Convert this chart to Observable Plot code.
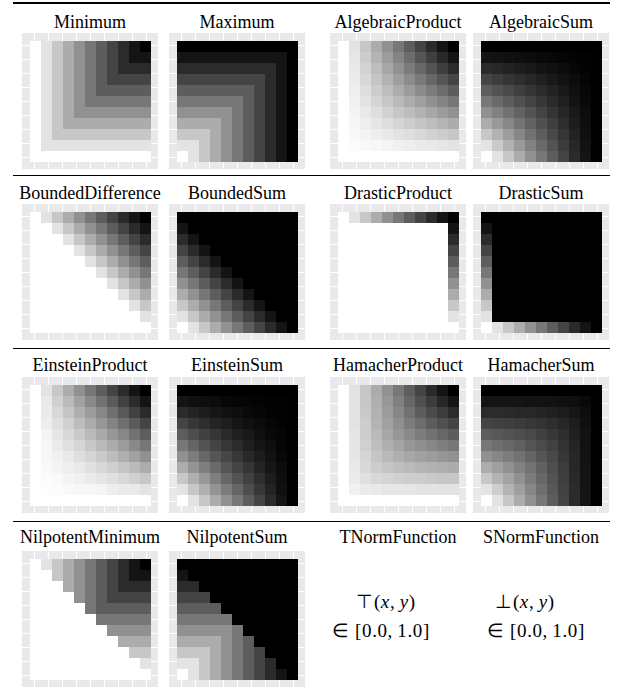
<!DOCTYPE html>
<html><head><meta charset="utf-8">
<script src="https://cdn.jsdelivr.net/npm/d3@7"></script>
<script src="https://cdn.jsdelivr.net/npm/@observablehq/plot@0.6"></script>
<style>
html,body{margin:0;padding:0;background:#fff;}
#page{position:relative;width:618px;height:687px;overflow:hidden;color:#000;}
.rule{position:absolute;left:13px;width:597px;background:#000;}
.title,.math{position:absolute;width:180px;text-align:center;font-size:18px;line-height:18px;white-space:nowrap;
  font-family:"Liberation Serif","Times New Roman",serif;}
.math{font-size:19px;letter-spacing:0.6px;}
.panel{position:absolute;width:136px;height:136px;background-color:#e9e9ec;
  background-image:linear-gradient(to right,#fff 1px,transparent 1px),linear-gradient(to bottom,#fff 1px,transparent 1px);
  background-size:14px 14px;background-position:12px 12px;}
.panel svg{display:block;background:transparent !important;}
</style></head>
<body><div id="page"></div>
<script>
// ---- data (values in percent, rows from y = 1.0 at top to y = 0.0 at bottom, columns x = 0.0 .. 1.0) ----
const xValues = [0, 0.1, 0.2, 0.3, 0.4, 0.5, 0.6, 0.7, 0.8, 0.9, 1.0];
const yValues = [1.0, 0.9, 0.8, 0.7, 0.6, 0.5, 0.4, 0.3, 0.2, 0.1, 0];

const minimum = [
  [0,10,20,30,40,50,60,70,80,90,100],
  [0,10,20,30,40,50,60,70,80,90,90],
  [0,10,20,30,40,50,60,70,80,80,80],
  [0,10,20,30,40,50,60,70,70,70,70],
  [0,10,20,30,40,50,60,60,60,60,60],
  [0,10,20,30,40,50,50,50,50,50,50],
  [0,10,20,30,40,40,40,40,40,40,40],
  [0,10,20,30,30,30,30,30,30,30,30],
  [0,10,20,20,20,20,20,20,20,20,20],
  [0,10,10,10,10,10,10,10,10,10,10],
  [0,0,0,0,0,0,0,0,0,0,0]
];
const maximum = [
  [100,100,100,100,100,100,100,100,100,100,100],
  [90,90,90,90,90,90,90,90,90,90,100],
  [80,80,80,80,80,80,80,80,80,90,100],
  [70,70,70,70,70,70,70,70,80,90,100],
  [60,60,60,60,60,60,60,70,80,90,100],
  [50,50,50,50,50,50,60,70,80,90,100],
  [40,40,40,40,40,50,60,70,80,90,100],
  [30,30,30,30,40,50,60,70,80,90,100],
  [20,20,20,30,40,50,60,70,80,90,100],
  [10,10,20,30,40,50,60,70,80,90,100],
  [0,10,20,30,40,50,60,70,80,90,100]
];
const algebraicProduct = [
  [0,10,20,30,40,50,60,70,80,90,100],
  [0,9,18,27,36,45,54,63,72,81,90],
  [0,8,16,24,32,40,48,56,64,72,80],
  [0,7,14,21,28,35,42,49,56,63,70],
  [0,6,12,18,24,30,36,42,48,54,60],
  [0,5,10,15,20,25,30,35,40,45,50],
  [0,4,8,12,16,20,24,28,32,36,40],
  [0,3,6,9,12,15,18,21,24,27,30],
  [0,2,4,6,8,10,12,14,16,18,20],
  [0,1,2,3,4,5,6,7,8,9,10],
  [0,0,0,0,0,0,0,0,0,0,0]
];
const algebraicSum = [
  [100,100,100,100,100,100,100,100,100,100,100],
  [90,91,92,93,94,95,96,97,98,99,100],
  [80,82,84,86,88,90,92,94,96,98,100],
  [70,73,76,79,82,85,88,91,94,97,100],
  [60,64,68,72,76,80,84,88,92,96,100],
  [50,55,60,65,70,75,80,85,90,95,100],
  [40,46,52,58,64,70,76,82,88,94,100],
  [30,37,44,51,58,65,72,79,86,93,100],
  [20,28,36,44,52,60,68,76,84,92,100],
  [10,19,28,37,46,55,64,73,82,91,100],
  [0,10,20,30,40,50,60,70,80,90,100]
];
const boundedDifference = [
  [0,10,20,30,40,50,60,70,80,90,100],
  [0,0,10,20,30,40,50,60,70,80,90],
  [0,0,0,10,20,30,40,50,60,70,80],
  [0,0,0,0,10,20,30,40,50,60,70],
  [0,0,0,0,0,10,20,30,40,50,60],
  [0,0,0,0,0,0,10,20,30,40,50],
  [0,0,0,0,0,0,0,10,20,30,40],
  [0,0,0,0,0,0,0,0,10,20,30],
  [0,0,0,0,0,0,0,0,0,10,20],
  [0,0,0,0,0,0,0,0,0,0,10],
  [0,0,0,0,0,0,0,0,0,0,0]
];
const boundedSum = [
  [100,100,100,100,100,100,100,100,100,100,100],
  [90,100,100,100,100,100,100,100,100,100,100],
  [80,90,100,100,100,100,100,100,100,100,100],
  [70,80,90,100,100,100,100,100,100,100,100],
  [60,70,80,90,100,100,100,100,100,100,100],
  [50,60,70,80,90,100,100,100,100,100,100],
  [40,50,60,70,80,90,100,100,100,100,100],
  [30,40,50,60,70,80,90,100,100,100,100],
  [20,30,40,50,60,70,80,90,100,100,100],
  [10,20,30,40,50,60,70,80,90,100,100],
  [0,10,20,30,40,50,60,70,80,90,100]
];
const drasticProduct = [
  [0,10,20,30,40,50,60,70,80,90,100],
  [0,0,0,0,0,0,0,0,0,0,90],
  [0,0,0,0,0,0,0,0,0,0,80],
  [0,0,0,0,0,0,0,0,0,0,70],
  [0,0,0,0,0,0,0,0,0,0,60],
  [0,0,0,0,0,0,0,0,0,0,50],
  [0,0,0,0,0,0,0,0,0,0,40],
  [0,0,0,0,0,0,0,0,0,0,30],
  [0,0,0,0,0,0,0,0,0,0,20],
  [0,0,0,0,0,0,0,0,0,0,10],
  [0,0,0,0,0,0,0,0,0,0,0]
];
const drasticSum = [
  [100,100,100,100,100,100,100,100,100,100,100],
  [90,100,100,100,100,100,100,100,100,100,100],
  [80,100,100,100,100,100,100,100,100,100,100],
  [70,100,100,100,100,100,100,100,100,100,100],
  [60,100,100,100,100,100,100,100,100,100,100],
  [50,100,100,100,100,100,100,100,100,100,100],
  [40,100,100,100,100,100,100,100,100,100,100],
  [30,100,100,100,100,100,100,100,100,100,100],
  [20,100,100,100,100,100,100,100,100,100,100],
  [10,100,100,100,100,100,100,100,100,100,100],
  [0,10,20,30,40,50,60,70,80,90,100]
];
const einsteinProduct = [
  [0,10,20,30,40,50,60,70,80,90,100],
  [0,8,17,25,34,43,52,61,71,80,90],
  [0,7,14,21,29,36,44,53,62,71,80],
  [0,6,11,17,24,30,38,45,53,61,70],
  [0,4,9,14,19,25,31,38,44,52,60],
  [0,3,7,11,15,20,25,30,36,43,50],
  [0,3,5,8,12,15,19,24,29,34,40],
  [0,2,4,6,8,11,14,17,21,25,30],
  [0,1,2,4,5,7,9,11,14,17,20],
  [0,1,1,2,3,3,4,6,7,8,10],
  [0,0,0,0,0,0,0,0,0,0,0]
];
const einsteinSum = [
  [100,100,100,100,100,100,100,100,100,100,100],
  [90,92,93,94,96,97,97,98,99,99,100],
  [80,83,86,89,91,93,95,96,98,99,100],
  [70,75,79,83,86,89,92,94,96,98,100],
  [60,66,71,76,81,85,88,92,95,97,100],
  [50,57,64,70,75,80,85,89,93,97,100],
  [40,48,56,63,69,75,81,86,91,96,100],
  [30,39,47,55,63,70,76,83,89,94,100],
  [20,29,38,47,56,64,71,79,86,93,100],
  [10,20,29,39,48,57,66,75,83,92,100],
  [0,10,20,30,40,50,60,70,80,90,100]
];
const hamacherProduct = [
  [0,10,20,30,40,50,60,70,80,90,100],
  [0,10,20,29,38,47,56,65,73,82,90],
  [0,10,19,28,36,44,52,60,67,73,80],
  [0,10,18,27,34,41,48,54,60,65,70],
  [0,9,18,25,32,38,43,48,52,56,60],
  [0,9,17,23,29,33,38,41,44,47,50],
  [0,9,15,21,25,29,32,34,36,38,40],
  [0,8,14,18,21,23,25,27,28,29,30],
  [0,7,11,14,15,17,18,18,19,20,20],
  [0,5,7,8,9,9,9,10,10,10,10],
  [0,0,0,0,0,0,0,0,0,0,0]
];
const hamacherSum = [
  [100,100,100,100,100,100,100,100,100,100,100],
  [90,90,90,90,91,91,91,92,93,95,100],
  [80,80,81,82,82,83,85,86,89,93,100],
  [70,71,72,73,75,77,79,82,86,92,100],
  [60,62,64,66,68,71,75,79,85,91,100],
  [50,53,56,59,63,67,71,77,83,91,100],
  [40,44,48,52,57,63,68,75,82,91,100],
  [30,35,40,46,52,59,66,73,82,90,100],
  [20,27,33,40,48,56,64,72,81,90,100],
  [10,18,27,35,44,53,62,71,80,90,100],
  [0,10,20,30,40,50,60,70,80,90,100]
];
const nilpotentMinimum = [
  [0,10,20,30,40,50,60,70,80,90,100],
  [0,0,20,30,40,50,60,70,80,90,90],
  [0,0,0,30,40,50,60,70,80,80,80],
  [0,0,0,0,40,50,60,70,70,70,70],
  [0,0,0,0,0,50,60,60,60,60,60],
  [0,0,0,0,0,0,50,50,50,50,50],
  [0,0,0,0,0,0,0,40,40,40,40],
  [0,0,0,0,0,0,0,0,30,30,30],
  [0,0,0,0,0,0,0,0,0,20,20],
  [0,0,0,0,0,0,0,0,0,0,10],
  [0,0,0,0,0,0,0,0,0,0,0]
];
const nilpotentSum = [
  [100,100,100,100,100,100,100,100,100,100,100],
  [90,100,100,100,100,100,100,100,100,100,100],
  [80,80,100,100,100,100,100,100,100,100,100],
  [70,70,70,100,100,100,100,100,100,100,100],
  [60,60,60,60,100,100,100,100,100,100,100],
  [50,50,50,50,50,100,100,100,100,100,100],
  [40,40,40,40,40,50,100,100,100,100,100],
  [30,30,30,30,40,50,60,100,100,100,100],
  [20,20,20,30,40,50,60,70,100,100,100],
  [10,10,20,30,40,50,60,70,80,100,100],
  [0,10,20,30,40,50,60,70,80,90,100]
];

const panelNames = [
  "Minimum","Maximum","AlgebraicProduct","AlgebraicSum",
  "BoundedDifference","BoundedSum","DrasticProduct","DrasticSum",
  "EinsteinProduct","EinsteinSum","HamacherProduct","HamacherSum",
  "NilpotentMinimum","NilpotentSum","TNormFunction","SNormFunction"
];
const panelMatrices = [
  minimum, maximum, algebraicProduct, algebraicSum,
  boundedDifference, boundedSum, drasticProduct, drasticSum,
  einsteinProduct, einsteinSum, hamacherProduct, hamacherSum,
  nilpotentMinimum, nilpotentSum, null, null
];
const formulaLines = [
  ["\u22A4(<i>x</i>,\u2009<i>y</i>)", "\u2208 [0.0,\u20091.0]"],
  ["\u22A5(<i>x</i>,\u2009<i>y</i>)", "\u2208 [0.0,\u20091.0]"]
];

// ---- layout ----
const colLeft = [22, 169, 330, 473];
const rowTop = [33, 204, 377, 551];
const ruleY = [2, 175, 348, 521];
const ruleH = [2, 1, 1, 1];
const titleBaseline = [28, 199, 371, 543];
const PANEL = 136;

const page = document.getElementById("page");

ruleY.forEach((y, i) => {
  const d = document.createElement("div");
  d.className = "rule";
  d.style.top = y + "px";
  d.style.height = ruleH[i] + "px";
  page.appendChild(d);
});

// grey ramp: white (0) to black (100), slightly darkened mid-tones
const greyRamp = t => {
  const g = Math.round(255 * Math.pow(1 - t, 1.1));
  return `rgb(${g},${g},${g})`;
};

function heatmap(matrix) {
  const cells = [];
  matrix.forEach((row, r) => row.forEach((v, c) => cells.push({x: xValues[c], y: yValues[r], v})));
  return Plot.plot({
    width: PANEL, height: PANEL,
    marginTop: 6, marginBottom: 5, marginLeft: 6, marginRight: 5,
    x: {type: "band", domain: xValues, padding: 0, axis: null},
    y: {type: "band", domain: yValues, padding: 0, axis: null},
    color: {type: "linear", domain: [0, 100], interpolate: greyRamp},
    style: {background: "transparent"},
    marks: [
      Plot.cell(cells, {x: "x", y: "y", fill: "v", inset: 0, shapeRendering: "crispEdges"})
    ]
  });
}

panelNames.forEach((name, k) => {
  const r = Math.floor(k / 4), c = k % 4;
  const cx = colLeft[c] + PANEL / 2;
  const t = document.createElement("div");
  t.className = "title";
  t.textContent = name;
  t.style.left = (cx - 90) + "px";
  t.style.top = (titleBaseline[r] - 15) + "px";
  page.appendChild(t);
  const m = panelMatrices[k];
  if (m) {
    const holder = document.createElement("div");
    holder.className = "panel";
    holder.style.left = colLeft[c] + "px";
    holder.style.top = rowTop[r] + "px";
    const svg = heatmap(m);
    svg.style.background = "transparent";
    holder.appendChild(svg);
    page.appendChild(holder);
  }
});

// formula cells (last row, columns 3 and 4)
const formulaCenters = [[386, 381], [525, 536]];
const formulaBaselines = [609, 638];
formulaLines.forEach((lines, j) => {
  lines.forEach((html, l) => {
    const d = document.createElement("div");
    d.className = "math";
    d.innerHTML = html;
    d.style.left = (formulaCenters[j][l] - 90) + "px";
    d.style.top = (formulaBaselines[l] - 16) + "px";
    page.appendChild(d);
  });
});
</script>
</body></html>
